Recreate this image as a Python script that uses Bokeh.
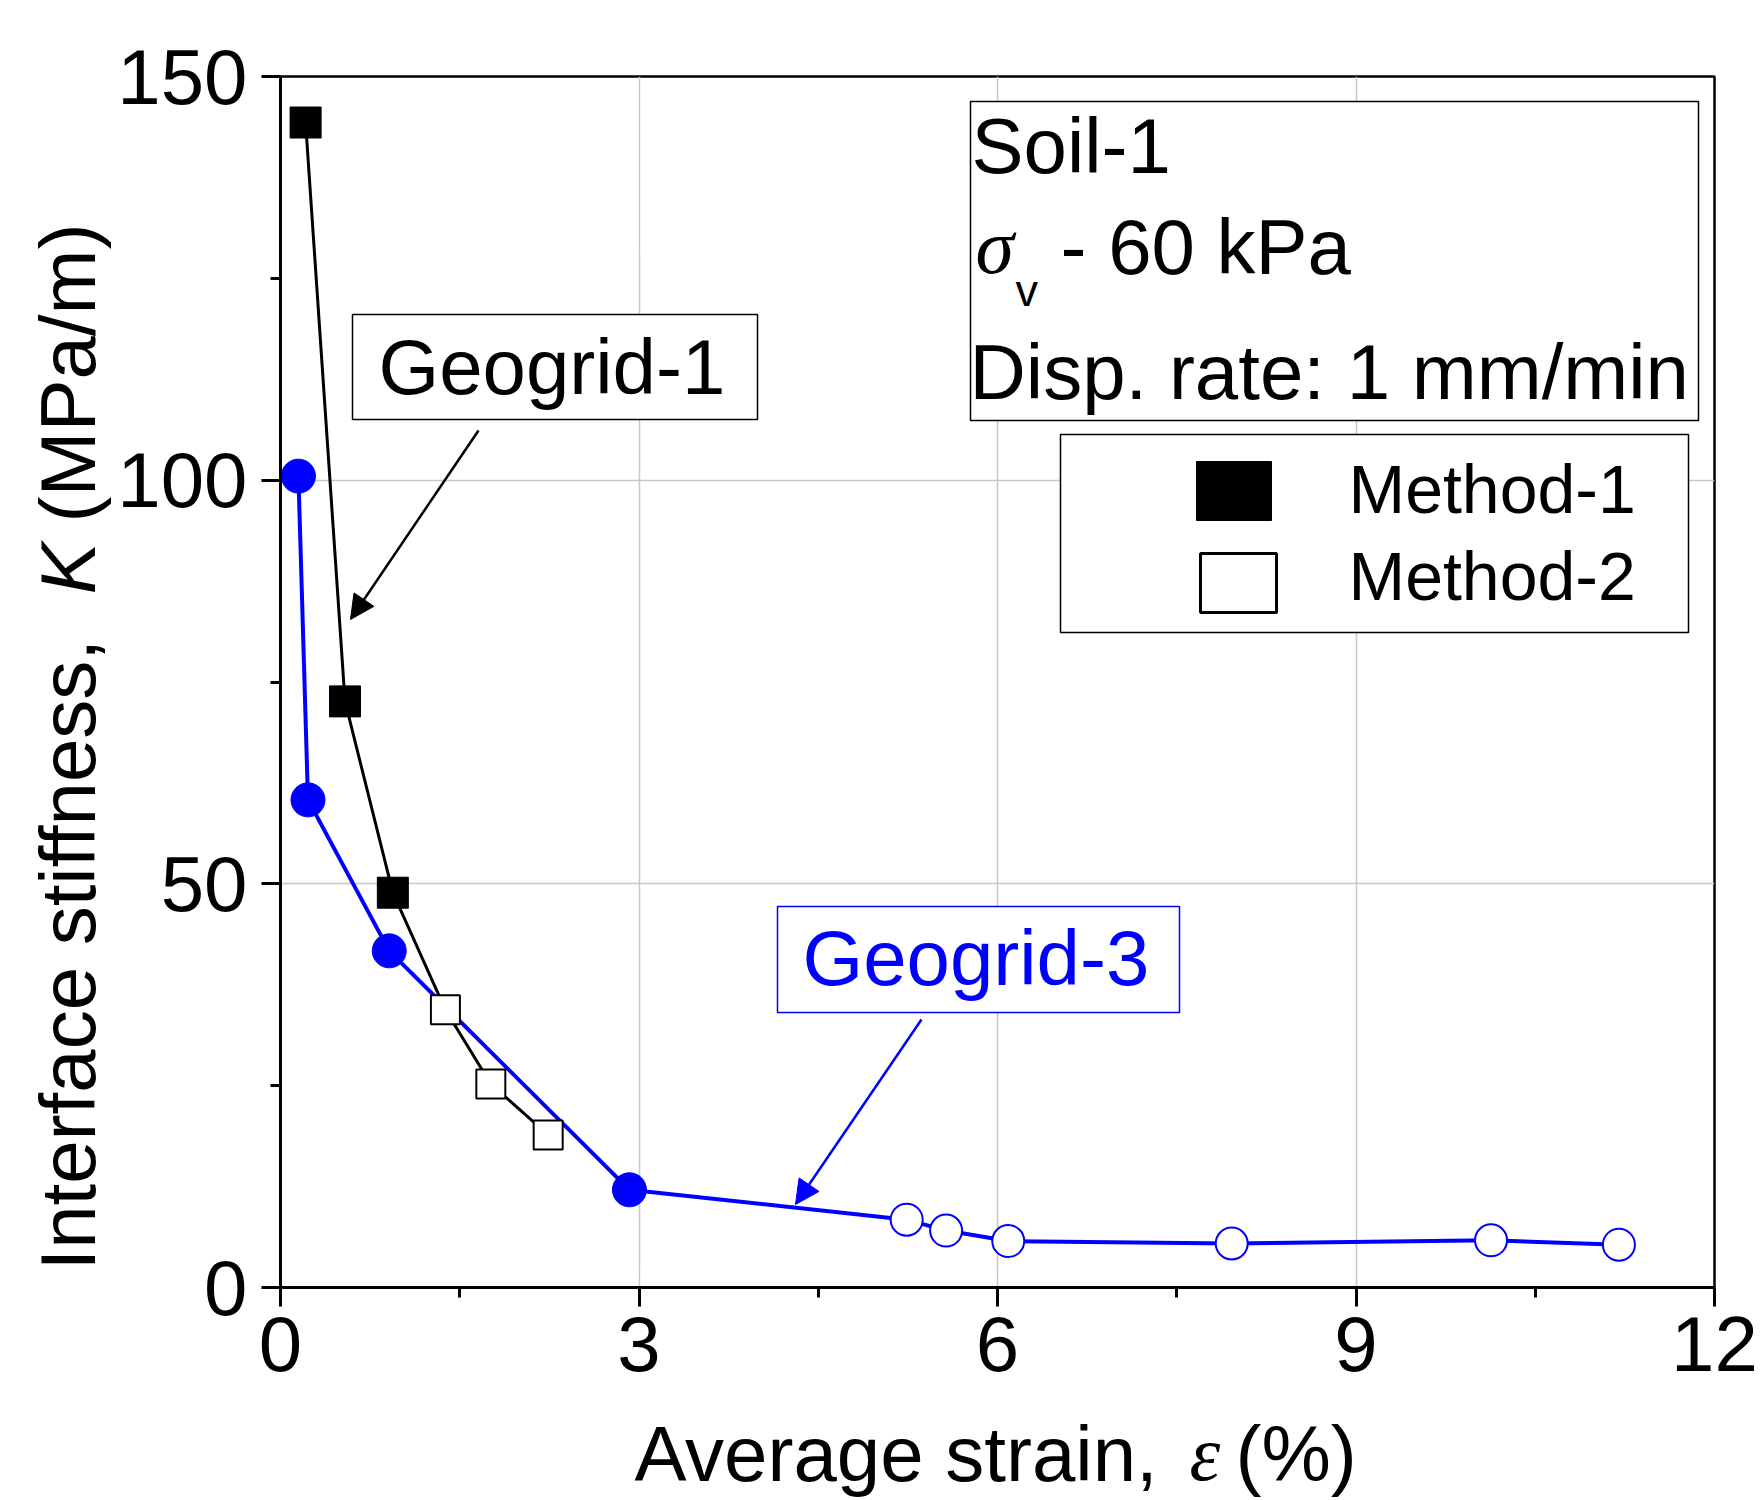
import math
from bokeh.plotting import figure
from bokeh.layouts import row, column
from bokeh.models import (Range1d, FixedTicker, Label, BoxAnnotation, Arrow, NormalHead)
from bokeh.embed import file_html
from bokeh.resources import INLINE

# ---------------- data ----------------
# Geogrid-1 (black squares)
g1_m1_x = [0.21, 0.54, 0.94]
g1_m1_y = [144.3, 72.6, 48.9]
g1_m2_x = [1.38, 1.76, 2.24]
g1_m2_y = [34.4, 25.2, 18.9]
# Geogrid-3 (blue circles)
g3_m1_x = [0.15, 0.23, 0.91, 2.92]
g3_m1_y = [100.5, 60.4, 41.7, 12.1]
g3_m2_x = [5.24, 5.57, 6.09, 7.96, 10.13, 11.20]
g3_m2_y = [8.4, 7.05, 5.75, 5.45, 5.85, 5.3]

x_ticks = [0, 3, 6, 9, 12]
x_minor = [1.5, 4.5, 7.5, 10.5]
y_ticks = [0, 50, 100, 150]
y_minor = [25, 75, 125]

# ---------------- layout (page pixels) ----------------
W, H = 1764, 1500
YW = 112           # strip on the left holding the y title
XH = 95            # strip at the bottom holding the x title
FL, FR, FT, FB = 280, 1714, 76, 1287   # frame edges in page pixels
XMIN, XMAX, YMIN, YMAX = 0, 12, 0, 150
BASE = 0.38        # alphabetic-baseline correction (fraction of font size)

def dx(px):
    return XMIN + (px - FL) * (XMAX - XMIN) / (FR - FL)

def dy(py):
    return YMIN + (FB - py) * (YMAX - YMIN) / (FB - FT)

FONT = "Liberation Sans"
SERIF = "Liberation Serif"
BLUE = "#0000ff"

MW, MH = W - YW, H - XH
p = figure(width=MW, height=MH, x_range=Range1d(XMIN, XMAX), y_range=Range1d(YMIN, YMAX),
           output_backend="svg", toolbar_location=None,
           min_border_left=FL - YW, min_border_right=W - FR, min_border_top=FT,
           min_border_bottom=MH - FB)
p.background_fill_color = "white"
p.border_fill_color = "white"
p.outline_line_color = "black"
p.outline_line_width = 2.5

p.xaxis.ticker = FixedTicker(ticks=x_ticks, minor_ticks=x_minor)
p.yaxis.ticker = FixedTicker(ticks=y_ticks, minor_ticks=y_minor)
for ax in (p.xaxis[0], p.yaxis[0]):
    ax.axis_line_width = 3
    ax.axis_line_color = "black"
    ax.major_tick_line_width = 3
    ax.minor_tick_line_width = 3
    ax.major_tick_line_color = "black"
    ax.minor_tick_line_color = "black"
    ax.major_tick_in = 0
    ax.minor_tick_in = 0
    ax.major_tick_out = 19
    ax.minor_tick_out = 10
    ax.major_label_text_font = FONT
    ax.major_label_text_font_size = "78px"
    ax.major_label_text_color = "black"
p.xaxis.major_label_standoff = 10
p.yaxis.major_label_standoff = 14

p.xgrid.grid_line_color = "#c8c8c8"
p.ygrid.grid_line_color = "#c8c8c8"
p.xgrid.grid_line_width = 1.5
p.ygrid.grid_line_width = 1.5

# ---------------- series ----------------
p.line(g3_m1_x + g3_m2_x, g3_m1_y + g3_m2_y, line_color=BLUE, line_width=4)
p.scatter(g3_m1_x, g3_m1_y, marker="circle", size=34, fill_color=BLUE, line_color=BLUE)
p.scatter(g3_m2_x, g3_m2_y, marker="circle", size=32, fill_color="white",
          line_color=BLUE, line_width=2)

p.line(g1_m1_x + g1_m2_x, g1_m1_y + g1_m2_y, line_color="black", line_width=3)
p.scatter(g1_m1_x, g1_m1_y, marker="square", size=31, fill_color="black", line_color="black")
p.scatter(g1_m2_x, g1_m2_y, marker="square", size=29, fill_color="white",
          line_color="black", line_width=2)


def box(l, t, r, b, color="black", lw=1.5, fill="white"):
    p.add_layout(BoxAnnotation(left=dx(l), right=dx(r), top=dy(t), bottom=dy(b),
                               fill_color=fill, fill_alpha=1.0,
                               line_color=color, line_alpha=1.0, line_width=lw))


def label(px, py, text, size=78, color="black", font=FONT, style="normal"):
    p.add_layout(Label(x=dx(px), y=dy(py - BASE * size), text=text, text_font=font,
                       text_font_size=f"{size}px", text_color=color,
                       text_font_style=style, text_align="left",
                       text_baseline="alphabetic"))


# Geogrid-1 callout
box(352, 314, 757, 419)
label(378, 396, "Geogrid-1")
p.add_layout(Arrow(x_start=dx(478), y_start=dy(430), x_end=dx(350), y_end=dy(619),
                   line_color="black", line_width=2.5,
                   end=NormalHead(size=24, fill_color="black", line_color="black")))

# Geogrid-3 callout
box(777, 906, 1179, 1012, color=BLUE)
label(802, 987, "Geogrid-3", color=BLUE)
p.add_layout(Arrow(x_start=dx(921), y_start=dy(1019), x_end=dx(795), y_end=dy(1204),
                   line_color=BLUE, line_width=2.5,
                   end=NormalHead(size=24, fill_color=BLUE, line_color=BLUE)))

# Info box
box(970, 101, 1698, 420)
label(971, 175, "Soil-1")
label(975, 276, "σ", font=SERIF, style="italic")
label(1015, 307, "v", size=45)
label(1060, 276, "- 60 kPa")
label(969, 401, "Disp. rate: 1 mm/min")

# Legend
box(1060, 434, 1688, 632)
box(1196, 461, 1271, 520, fill="black", lw=1)
box(1200, 553, 1276, 612, lw=3)
label(1348, 514, "Method-1", size=68)
label(1348, 601, "Method-2", size=68)


# ---------------- axis titles in side strips (page-pixel ranges) ----------------
def strip(w, h, xr, yr, bl=0, br=0):
    f = figure(width=w, height=h, x_range=Range1d(*xr), y_range=Range1d(*yr),
               output_backend="svg", toolbar_location=None,
               min_border_left=bl, min_border_right=br,
               min_border_top=0, min_border_bottom=0,
               x_axis_location=None, y_axis_location=None)
    f.outline_line_color = None
    f.background_fill_color = "white"
    f.border_fill_color = "white"
    f.grid.visible = False
    return f


ys = strip(YW, H, (0, YW), (H, 0))
for py, txt, style in [(1270, "Interface stiffness,", "normal"),
                       (594, "K", "italic"),
                       (522, "(MPa/m)", "normal")]:
    ys.add_layout(Label(x=97 - BASE * 78, y=py, text=txt, text_font=FONT,
                        text_font_size="78px", text_font_style=style,
                        text_color="black", text_align="left",
                        text_baseline="alphabetic", angle=math.pi / 2))

# frame of this strip spans the same page columns as the main frame
xs = strip(MW, XH, (FL, FR), (H, H - XH), bl=FL - YW, br=W - FR)
for px, txt, font, style in [(634, "Average strain,", FONT, "normal"),
                             (1189, "ε", SERIF, "italic"),
                             (1235, "(%)", FONT, "normal")]:
    xs.add_layout(Label(x=px, y=1483 - BASE * 78, text=txt,
                        text_font=font, text_font_size="78px", text_font_style=style,
                        text_color="black", text_align="left",
                        text_baseline="alphabetic"))

layout = row(ys, column(p, xs, spacing=0), spacing=0)
open("out.html", "w").write(file_html(layout, INLINE))
